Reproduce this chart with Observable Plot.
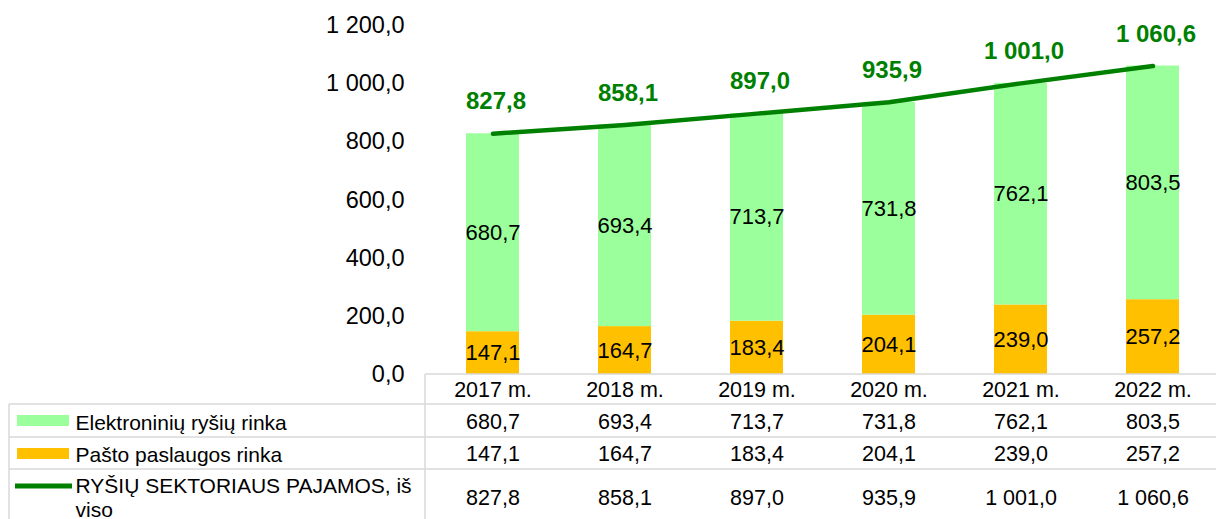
<!DOCTYPE html>
<html>
<head>
<meta charset="utf-8">
<script src="https://cdn.jsdelivr.net/npm/d3@7"></script>
<script src="https://cdn.jsdelivr.net/npm/@observablehq/plot@0.6"></script>
<style>
  html, body { margin: 0; padding: 0; background: #fff; }
  #chart { width: 1216px; height: 519px; overflow: hidden; }
  svg { font-family: "Liberation Sans", Arial, sans-serif; }
</style>
</head>
<body>
<div id="chart"></div>
<script>
// ---- data ----
const years = ["2017 m.", "2018 m.", "2019 m.", "2020 m.", "2021 m.", "2022 m."];
const electronic = [680.7, 693.4, 713.7, 731.8, 762.1, 803.5];
const postal = [147.1, 164.7, 183.4, 204.1, 239.0, 257.2];
const total = [827.8, 858.1, 897.0, 935.9, 1001.0, 1060.6];
const yTicks = [0, 200, 400, 600, 800, 1000, 1200];
const seriesNames = ["Elektroninių ryšių rinka", "Pašto paslaugos rinka", "RYŠIŲ SEKTORIAUS PAJAMOS, iš\nviso"];
const colors = {electronic: "#9BFF9B", postal: "#FFC000", total: "#008000"};

const locale = d3.formatLocale({decimal: ",", thousands: " ", grouping: [3]});
const fmt = locale.format(",.1f");

const stacked = [];
years.forEach((y, i) => {
  stacked.push({year: y, series: "postal", value: postal[i]});
  stacked.push({year: y, series: "electronic", value: electronic[i]});
});
const totals = years.map((y, i) => ({year: y, value: total[i]}));
const rows = [electronic, postal, total];

const W = 1216, H = 519;
const baseY = 374;
const rowDy = [47.5, 80, 124];
const fs = 21.5;

const plot = Plot.plot({
  width: W,
  height: H,
  marginLeft: 425,
  marginRight: 0,
  marginTop: 25,
  marginBottom: H - baseY,
  style: {fontFamily: "Liberation Sans, Arial, sans-serif", fontSize: fs + "px", color: "#000", background: "#fff", overflow: "visible"},
  x: {type: "band", domain: years, range: [425, 1220], paddingInner: 0.6, paddingOuter: 0.3, axis: null},
  y: {domain: [0, 1200], range: [baseY, 25], axis: null},
  marks: [
    Plot.axisY({ticks: yTicks, tickFormat: fmt, tickSize: 0, tickPadding: 21, fontSize: 23.5, label: null}),
    Plot.barY(stacked, Plot.stackY({x: "year", y: "value", z: "series", order: null,
      fill: d => colors[d.series]})),
    Plot.text(stacked, Plot.stackY({x: "year", y: "value", z: "series", order: null,
      text: d => fmt(d.value), fontSize: 22, fill: "#000"})),
    Plot.line(totals, {x: "year", y: "value", stroke: colors.total, strokeWidth: 4.5}),
    Plot.text(totals, {x: "year", y: "value", text: d => fmt(d.value), dy: -32, dx: 3,
      fill: colors.total, fontWeight: "bold", fontSize: 24}),
    // table header
    Plot.text(years, {x: d => d, text: d => d, frameAnchor: "bottom", lineAnchor: "middle", dy: 16, fontSize: fs, fill: "#000"}),
    // table rows
    ...rows.map((arr, r) => Plot.text(years.map((y, i) => ({year: y, v: arr[i]})),
      {x: "year", text: d => fmt(d.v), frameAnchor: "bottom", lineAnchor: "middle", dy: rowDy[r], fontSize: fs, fill: "#000"})),
    // legend labels in the table
    ...seriesNames.map((name, r) => Plot.text([name], {text: d => d, frameAnchor: "bottom-left",
      dx: 75 - 425, dy: r === 2 ? 122.5 : rowDy[r], textAnchor: "start", lineAnchor: "middle",
      lineHeight: 1.16, fontSize: 21, fill: "#000"}))
  ]
});

// table grid lines and legend swatches
const svg = d3.select(plot);
const g = svg.append("g").attr("stroke", "#d9d9d9").attr("stroke-width", 1.5);
g.append("line").attr("x1", 425).attr("x2", W).attr("y1", baseY).attr("y2", baseY);
g.append("line").attr("x1", 425).attr("x2", 425).attr("y1", baseY).attr("y2", H);
[404, 437, 469].forEach(y => g.append("line").attr("x1", 9).attr("x2", W).attr("y1", y).attr("y2", y));
g.append("line").attr("x1", 9).attr("x2", 9).attr("y1", 404).attr("y2", H);
svg.append("rect").attr("x", 17).attr("y", 415).attr("width", 52).attr("height", 11).attr("fill", colors.electronic);
svg.append("rect").attr("x", 17).attr("y", 448).attr("width", 52).attr("height", 11).attr("fill", colors.postal);
svg.append("line").attr("x1", 15).attr("x2", 72).attr("y1", 486).attr("y2", 486).attr("stroke", colors.total).attr("stroke-width", 5);

document.getElementById("chart").appendChild(plot);
</script>
</body>
</html>
